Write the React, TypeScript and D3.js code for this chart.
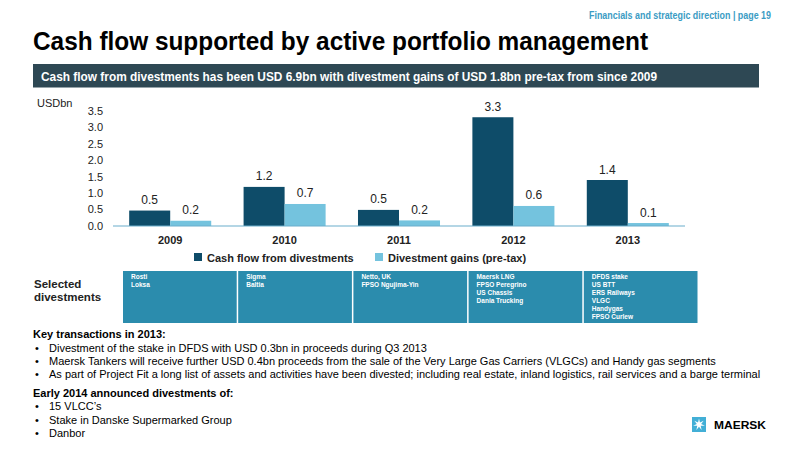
import React from "react";
import * as d3 from "d3";

const years = ["2009", "2010", "2011", "2012", "2013"];
const cashFlow = [0.47, 1.19, 0.49, 3.31, 1.4];
const gains = [0.16, 0.67, 0.17, 0.61, 0.09];
const yTicks = [0, 0.5, 1, 1.5, 2, 2.5, 3, 3.5];
const seriesNames = ["Cash flow from divestments", "Divestment gains (pre-tax)"];
const divestments = [
  ["Rosti", "Loksa"],
  ["Sigma", "Baltia"],
  ["Netto, UK", "FPSO Ngujima-Yin"],
  ["Maersk LNG", "FPSO Peregrino", "US Chassis", "Dania Trucking"],
  ["DFDS stake", "US BTT", "ERS Railways", "VLGC", "Handygas", "FPSO Curlew"],
];
const keyTransactions = [
  "Divestment of the stake in DFDS with USD 0.3bn in proceeds during Q3 2013",
  "Maersk Tankers will receive further USD 0.4bn proceeds from the sale of the Very Large Gas Carriers (VLGCs) and Handy gas segments",
  "As part of Project Fit a long list of assets and activities have been divested; including real estate, inland logistics, rail services and a barge terminal",
];
const early2014 = ["15 VLCC\u2019s", "Stake in Danske Supermarked Group", "Danbor"];

const FONT = "'Liberation Sans', Arial, Helvetica, sans-serif";
const DARK = "#0e4c69";
const LIGHT = "#74c3de";
const BOX = "#2b8cad";
const TEXT = "#222";

export default function App() {
  const x = d3.scaleBand<string>().domain(years).range([113, 685]).paddingInner(0.283).paddingOuter(0.1415);
  const x1 = d3.scaleBand<number>().domain([0, 1]).range([0, x.bandwidth()]);
  const y = d3.scaleLinear().domain([0, 3.5]).range([226, 111]);
  const fmt = d3.format(".1f");
  const series = [cashFlow, gains];
  const colors = [DARK, LIGHT];

  const cells = d3.scaleBand<number>().domain(d3.range(divestments.length)).range([123, 699]);

  // Maersk star
  const star = d3.range(14).map((i) => {
    const r = i % 2 === 0 ? 6 : 2.2;
    const a = (i * Math.PI) / 7 - Math.PI / 2;
    return [r * Math.cos(a), r * Math.sin(a)] as [number, number];
  });
  const starPath = d3.line()(star) + "Z";

  return (
    <svg
      width={800}
      height={450}
      style={{ position: "absolute", left: 0, top: 0, display: "block", background: "#fff" }}
      fontFamily={FONT}
    >
      <text x={589} y={19} fontSize={10} fontWeight="bold" fill="#3b9cc4" textLength={182} lengthAdjust="spacingAndGlyphs">
        Financials and strategic direction | page 19
      </text>
      <text x={33} y={50} fontSize={25} fontWeight="bold" fill="#000" textLength={615} lengthAdjust="spacingAndGlyphs">
        Cash flow supported by active portfolio management
      </text>
      <rect x={33} y={64} width={726} height={23.5} fill="#2e4854" />
      <text x={41} y={80.5} fontSize={12} fontWeight="bold" fill="#fff" textLength={616} lengthAdjust="spacingAndGlyphs">
        Cash flow from divestments has been USD 6.9bn with divestment gains of USD 1.8bn pre-tax from since 2009
      </text>

      {/* chart */}
      <text x={37} y={107} fontSize={11} fill={TEXT}>USDbn</text>
      {yTicks.map((t) => (
        <text key={t} x={103} y={y(t)} dy="0.35em" fontSize={11} textAnchor="end" fill={TEXT}>
          {fmt(t)}
        </text>
      ))}
      {years.map((yr, i) => (
        <g key={yr} transform={`translate(${x(yr)},0)`}>
          {series.map((s, j) => (
            <g key={j}>
              <rect x={x1(j)} y={y(s[i])} width={x1.bandwidth()} height={y(0) - y(s[i])} fill={colors[j]} />
              <text x={(x1(j) as number) + x1.bandwidth() / 2} y={y(s[i]) - 6.5} fontSize={12} textAnchor="middle" fill={TEXT}>
                {fmt(s[i])}
              </text>
            </g>
          ))}
          <text x={x.bandwidth() / 2} y={244} fontSize={11} fontWeight="bold" textAnchor="middle" fill={TEXT}>
            {yr}
          </text>
        </g>
      ))}
      <line x1={113} x2={685} y1={y(0)} y2={y(0)} stroke="#6aaecb" strokeWidth={1.2} />

      {/* legend */}
      {seriesNames.map((n, j) => (
        <g key={n} transform={`translate(${j === 0 ? 194 : 375},253)`}>
          <rect width={8} height={8} fill={colors[j]} />
          <text x={13} y={8.5} fontSize={11} fontWeight="bold" fill={TEXT}>{n}</text>
        </g>
      ))}

      {/* selected divestments */}
      <text x={34} y={288} fontSize={11.5} fontWeight="bold" fill={TEXT}>Selected</text>
      <text x={34} y={301} fontSize={11.5} fontWeight="bold" fill={TEXT}>divestments</text>
      {divestments.map((list, i) => (
        <g key={i} transform={`translate(${cells(i)},271)`}>
          <rect width={cells.bandwidth() - 1.5} height={52} fill={BOX} />
          {list.map((t, k) => (
            <text key={t} x={8} y={8 + k * 8} fontSize={6.5} fontWeight="bold" fill="#fff">
              {t}
            </text>
          ))}
        </g>
      ))}

      {/* key transactions */}
      <text x={33} y={338} fontSize={11} fontWeight="bold" fill="#000">Key transactions in 2013:</text>
      {keyTransactions.map((t, i) => (
        <g key={i}>
          <text x={35} y={352 + i * 13} fontSize={11} fill="#000">•</text>
          <text x={49} y={352 + i * 13} fontSize={11} fill="#000">{t}</text>
        </g>
      ))}
      <text x={33} y={397} fontSize={11} fontWeight="bold" fill="#000">Early 2014 announced divestments of:</text>
      {early2014.map((t, i) => (
        <g key={i}>
          <text x={35} y={410 + i * 13.5} fontSize={11} fill="#000">•</text>
          <text x={49} y={410 + i * 13.5} fontSize={11} fill="#000">{t}</text>
        </g>
      ))}

      {/* logo */}
      <rect x={692} y={417} width={14} height={15} fill="#42afd6" />
      <path d={starPath} transform="translate(699,424.5)" fill="#fff" />
      <text x={714} y={429} fontSize={10.5} fontWeight="bold" fill="#000" textLength={52} lengthAdjust="spacingAndGlyphs">
        MAERSK
      </text>
    </svg>
  );
}
